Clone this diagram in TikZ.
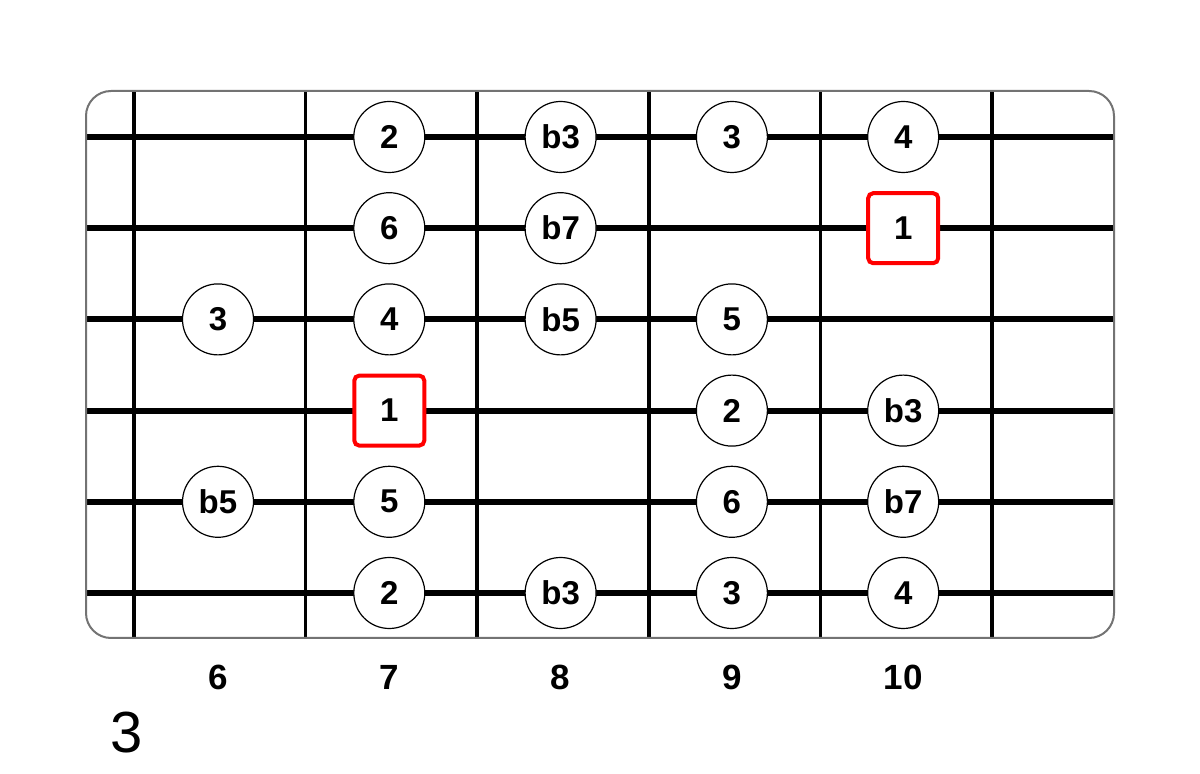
\documentclass[tikz,border=0pt]{standalone}
\usepackage{fontspec}
\setmainfont{Liberation Sans}
\begin{document}
\begin{tikzpicture}[x=0.5pt,y=-0.5pt,
  note/.style={circle,draw=black,line width=0.6pt,fill=white,minimum size=35.5pt,inner sep=0pt,font=\fontsize{16.5}{16.5}\selectfont\bfseries},
  rootnote/.style={rectangle,rounded corners=2.5pt,draw=red,line width=2pt,fill=white,minimum size=35pt,inner sep=0pt,font=\fontsize{16.5}{16.5}\selectfont\bfseries},
  fretnum/.style={font=\fontsize{17.5}{17.5}\selectfont\bfseries}]
  \useasboundingbox (0,0) rectangle (1200,774);

  % Bünde
  \foreach \k in {0,...,5}
    \draw[line width=1.75pt] (134+171.6*\k,91) -- (134+171.6*\k,638);

  % Saiten
  \foreach \s in {1,...,6}
    \draw[line width=3pt] (86,137+91.2*\s-91.2) -- (1114,137+91.2*\s-91.2);

  % Rahmen
  \draw[line width=1pt,black!55,rounded corners=12.5pt] (86,91) rectangle (1114,638);

  % Töne
  \foreach \s/\f/\t in {1/7/2,1/8/b3,1/9/3,1/10/4,
                        2/7/6,2/8/b7,
                        3/6/3,3/7/4,3/8/b5,3/9/5,
                        4/9/2,4/10/b3,
                        5/6/b5,5/7/5,5/9/6,5/10/b7,
                        6/7/2,6/8/b3,6/9/3,6/10/4}
    \node[note] (n\s-\f) at (218+171.3*\f-1027.8,137+91.2*\s-91.2) {\t};

  % Grundton
  \node[rootnote] (r2-10) at (903.2,228.2) {1};
  \node[rootnote] (r4-7) at (389.3,410.6) {1};

  % Bundnummern
  \foreach \f in {6,...,10}
    \node[fretnum] (f\f) at (218+171.3*\f-1027.8,677) {\f};

  \node[font=\fontsize{29}{29}\selectfont] (pos) at (127,733) {3};
\end{tikzpicture}
\end{document}
